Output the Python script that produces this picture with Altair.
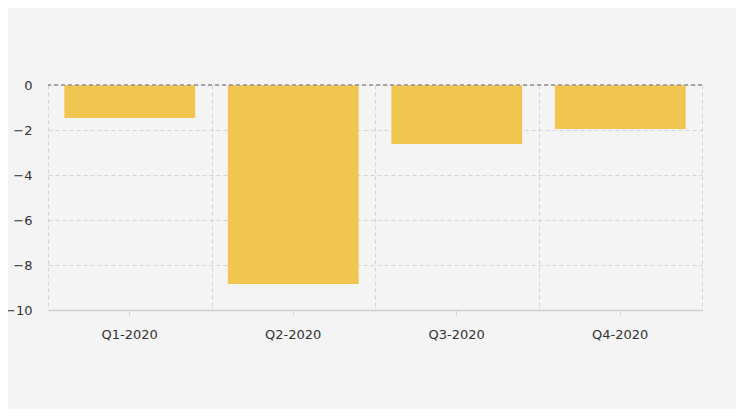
import altair as alt
import pandas as pd

quarters = ["Q1-2020", "Q2-2020", "Q3-2020", "Q4-2020"]
values = [-1.47, -8.84, -2.62, -1.96]
y_ticks = [0, -2, -4, -6, -8, -10]

df = pd.DataFrame({"quarter": quarters, "value": values})

FONT = "DejaVu Sans"
GRID = "#d4d4d4"
TEXT = "#333333"

grid_xscale = alt.Scale(domain=quarters, paddingInner=0, paddingOuter=0)
xscale = alt.Scale(domain=quarters, paddingInner=0.2, paddingOuter=0.1)
yscale = alt.Scale(domain=[-10, 0], nice=False)

grid_layer = alt.Chart(df).mark_bar(opacity=0).encode(
    x=alt.X("quarter:N", scale=grid_xscale, sort=quarters,
            axis=alt.Axis(title=None, labels=False, ticks=False, domain=False,
                          orient="bottom", grid=True, tickBand="extent",
                          gridColor=GRID, gridDash=[4, 3], gridWidth=1)),
    y=alt.Y("value:Q", scale=yscale,
            axis=alt.Axis(title=None, values=y_ticks, ticks=False, domain=False,
                          orient="left", grid=True, gridColor=GRID,
                          gridDash=[4, 3], labelFont=FONT, labelFontSize=13,
                          labelColor=TEXT, labelPadding=16)),
)

bars = alt.Chart(df).mark_bar(color="#f0c650").encode(
    x=alt.X("quarter:N", scale=xscale, sort=quarters,
            axis=alt.Axis(title=None, labelAngle=0, grid=False, ticks=True,
                          orient="bottom", tickSize=5, tickColor=GRID,
                          domain=True, domainColor="#d0d0d0", domainWidth=1.5,
                          labelFont=FONT, labelFontSize=13, labelColor=TEXT,
                          labelPadding=13)),
    y=alt.Y("value:Q", scale=yscale),
)

zero = alt.Chart(df).mark_rule(color="#a0a0a0", strokeDash=[4, 3], strokeWidth=1).encode(
    y=alt.datum(0)
)

chart = alt.layer(grid_layer, bars, zero).resolve_scale(
    x="independent"
).resolve_axis(
    x="independent"
).properties(
    width=654, height=225,
    padding={"left": 40, "top": 77, "right": 34, "bottom": 99},
    autosize=alt.AutoSizeParams(type="none"),
    background="#f4f4f4",
).configure_view(stroke=None)

chart.save("out.html", embed_options={"renderer": "svg", "actions": False})
